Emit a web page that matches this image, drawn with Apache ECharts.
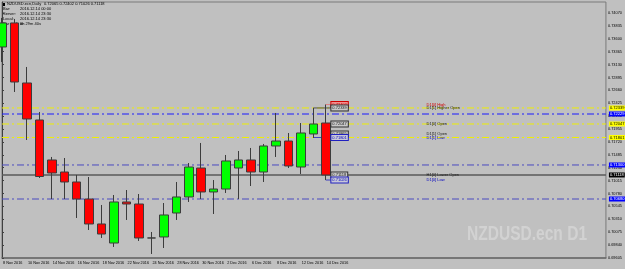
<!DOCTYPE html>
<html>
<head>
<meta charset="utf-8">
<script src="https://cdn.jsdelivr.net/npm/echarts@6.0.0/dist/echarts.min.js"></script>
<style>
  html, body { margin: 0; padding: 0; background: #c0c0c0; }
  #chart { width: 625px; height: 269px; }
</style>
</head>
<body>
<div id="chart"></div>
<script>
// trading days, one label per bar (only even bars get shown on the axis)
const dateLabels = [
    '8 Nov 2016', '9 Nov 2016', '10 Nov 2016', '11 Nov 2016', '14 Nov 2016', '15 Nov 2016',
    '16 Nov 2016', '17 Nov 2016', '18 Nov 2016', '21 Nov 2016', '22 Nov 2016', '23 Nov 2016',
    '24 Nov 2016', '25 Nov 2016', '28 Nov 2016', '29 Nov 2016', '30 Nov 2016', '1 Dec 2016',
    '2 Dec 2016', '5 Dec 2016', '6 Dec 2016', '7 Dec 2016', '8 Dec 2016', '9 Dec 2016',
    '12 Dec 2016', '13 Dec 2016', '14 Dec 2016'
];
const opens = [
    0.73450, 0.73888, 0.72794, 0.72120, 0.71391, 0.71172, 0.70990, 0.70680, 0.70225,
    0.69878, 0.70626, 0.70589, 0.69970, 0.69988, 0.70425, 0.70717, 0.71245, 0.70808,
    0.70862, 0.71245, 0.71391, 0.71172, 0.71646, 0.71737, 0.71263, 0.71865, 0.72065
];
const closes = [
    0.73888, 0.72812, 0.72138, 0.71090, 0.71154, 0.70990, 0.70680, 0.70225, 0.70042,
    0.70626, 0.70589, 0.69970, 0.69970, 0.70389, 0.70717, 0.71263, 0.70808, 0.70862,
    0.71373, 0.71391, 0.71172, 0.71646, 0.71737, 0.71282, 0.71883, 0.72047, 0.71118
];
const lows = [
    0.73177, 0.72630, 0.71755, 0.71063, 0.70680, 0.70680, 0.70334, 0.70115, 0.69970,
    0.69806, 0.70298, 0.69915, 0.69678, 0.69787, 0.70298, 0.70626, 0.70680, 0.70407,
    0.70790, 0.70680, 0.70917, 0.70990, 0.71446, 0.71245, 0.71136, 0.71792, 0.71026
];
const highs = [
    0.73979, 0.73961, 0.73086, 0.72266, 0.71446, 0.71427, 0.71118, 0.71081, 0.70571,
    0.70753, 0.70844, 0.70771, 0.70079, 0.70607, 0.70990, 0.71336, 0.71701, 0.71026,
    0.71482, 0.71555, 0.71610, 0.71683, 0.72248, 0.71883, 0.72065, 0.72339, 0.72402
];

// horizontal levels drawn by the indicator
const yellowLevels = [0.72339, 0.72047, 0.71801];
const blueLevels = [0.72229, 0.71300, 0.70680];
const bidPrice = 0.71118;

// level tags printed inside the chart
const tagNames = ['D1[0] High', 'D1[1] Higher Open', 'D1[0] Open', 'D1[1] Open', 'D1[1] Low', 'H1[0] Lower Open', 'D1[0] Low'];
const tagPrices = [0.72402, 0.72339, 0.72047, 0.71865, 0.71801, 0.71118, 0.71026];

const infoLines = [
    ['NZDUSD.ecn,Daily', '0.72065 0.72402 0.71026 0.71118'],
    ['Bar:', '2016.12.14 00:00'],
    ['Server:', '2016.12.14 23:30'],
    ['Local:', '2016.12.14 23:30'],
    ['Bar ends in:', '0h 29m 40s']
];

var chartDom = document.getElementById('chart');
var myChart = echarts.init(chartDom, null, { renderer: 'canvas' });

const tiny = 4;
const dashDot = [7, 3, 2, 3];
const xEnd = 48.5;
const boxX = 26.45;

const candleData = closes.map((c, i) => [i, opens[i], c, lows[i], highs[i]]);

function tagStyle(name) {
    if (name.indexOf('High') >= 0 && name.indexOf('Higher') < 0) return { text: '#d00000', fill: '#f09090', border: '#d00000' };
    if (name.indexOf('Low') >= 0 && name.indexOf('Lower') < 0) return { text: '#0000c0', fill: '#c8c8d8', border: '#2020c0' };
    return { text: '#202020', fill: '#c8c8c8', border: '#303030' };
}

// one flat line series per level, with the price box on the right axis
function levelSeries(price, color, type, width, boxFill, boxText) {
    return {
        type: 'line',
        silent: true,
        showSymbol: false,
        symbol: 'none',
        z: 1,
        lineStyle: { color: color, type: type, width: width },
        data: [[0, price], [xEnd, price]],
        endLabel: {
            show: true,
            distance: 3,
            fontSize: tiny,
            fontFamily: 'Arial',
            color: boxText,
            backgroundColor: boxFill,
            padding: [1, 1, 0, 1],
            formatter: () => price.toFixed(5)
        }
    };
}

// short connector from a bar to the value box
function connector(fromX, price, color) {
    return {
        type: 'line',
        silent: true,
        showSymbol: false,
        symbol: 'none',
        z: 1,
        lineStyle: { color: color, width: 1 },
        data: [[fromX, price], [boxX, price]]
    };
}

const series = [];
yellowLevels.forEach(p => series.push(levelSeries(p, '#eeee00', dashDot, 1, '#ffff00', '#000')));
blueLevels.forEach((p, i) => series.push(levelSeries(p, i === 0 ? '#1a1aff' : '#4a4ac0', dashDot, 1, '#0000ff', '#fff')));
series.push(levelSeries(bidPrice, '#5a5a5a', 'solid', 1.5, '#000', '#fff'));

series.push(connector(26, tagPrices[0], '#e08080'));
series.push(connector(25, tagPrices[1], '#505050'));
series.push(connector(26, tagPrices[2], '#505050'));
series.push(connector(25, tagPrices[4], '#4040c0'));
series.push(connector(26, tagPrices[6], '#4040c0'));

const boxes = tagNames.map((n, i) => {
    const s = tagStyle(n);
    return {
        coord: [boxX, tagPrices[i]],
        label: {
            formatter: tagPrices[i].toFixed(5),
            color: s.text,
            backgroundColor: s.fill,
            borderColor: s.border,
            borderWidth: 1,
            padding: [1, 1, 0, 1]
        }
    };
});
const tags = tagNames.map((n, i) => {
    const s = tagStyle(n);
    return {
        coord: [34.1, tagPrices[i]],
        label: { formatter: n, color: s.text }
    };
});

series.push({
    type: 'candlestick',
    barWidth: 9,
    z: 3,
    encode: { x: 0, y: [1, 2, 3, 4] },
    itemStyle: {
        color: '#00ff00',
        color0: '#ff0000',
        borderColor: '#3c3c3c',
        borderColor0: '#3c3c3c',
        borderColorDoji: '#3c3c3c',
        borderWidth: 1
    },
    data: candleData,
    markPoint: {
        silent: true,
        symbol: 'rect',
        symbolSize: 0,
        animation: false,
        label: {
            show: true,
            position: 'right',
            distance: 0,
            fontSize: tiny,
            fontFamily: 'Arial'
        },
        data: boxes.concat(tags)
    }
});

const graphics = [];
infoLines.forEach((l, i) => {
    graphics.push({
        type: 'text', left: i === 0 ? 7 : 3, top: 2 + i * 5, silent: true,
        style: { text: l[0], fontSize: tiny, fontFamily: 'Arial', fill: '#000' }
    });
    graphics.push({
        type: 'text', left: i === 0 ? 44 : 20, top: 2 + i * 5, silent: true,
        style: { text: l[1], fontSize: tiny, fontFamily: 'Arial', fill: '#000' }
    });
});
graphics.push({
    type: 'rect', left: 2, top: 3, silent: true,
    shape: { width: 3, height: 3 }, style: { fill: '#000' }
});
graphics.push({
    type: 'text', left: 467, top: 224, silent: true, scaleX: 0.74,
    style: {
        text: 'NZDUSD.ecn D1', fill: '#d2d2d2',
        font: 'bold 21px "Liberation Sans", Arial, sans-serif'
    }
});

var option = {
    animation: false,
    backgroundColor: '#c0c0c0',
    grid: {
        left: 1.7, right: 17, top: 2, bottom: 11,
        show: true, borderColor: '#7a7a7a', borderWidth: 1
    },
    xAxis: {
        type: 'value',
        min: 0,
        max: xEnd,
        interval: 2,
        splitLine: { show: false },
        axisLine: { lineStyle: { color: '#6a6a6a', width: 1.5 } },
        axisTick: { show: false },
        axisLabel: {
            align: 'left',
            margin: 3,
            fontSize: 3.8,
            fontFamily: 'Arial',
            color: '#000',
            padding: [0, 0, 0, 1],
            showMaxLabel: false,
            formatter: v => (Number.isInteger(v) && v < dateLabels.length) ? dateLabels[v] : ''
        }
    },
    yAxis: {
        type: 'value',
        position: 'right',
        min: 0.69605,
        max: 0.7427,
        interval: 0.00235,
        splitLine: { show: false },
        axisLine: { show: true, lineStyle: { color: '#404040', width: 1 } },
        axisTick: { show: true, length: 2, lineStyle: { color: '#404040' } },
        axisLabel: {
            margin: 2,
            fontSize: 3.9,
            fontFamily: 'Arial',
            color: '#000',
            showMaxLabel: false,
            formatter: v => v.toFixed(5)
        }
    },
    graphic: graphics,
    series: series
};

option && myChart.setOption(option);
</script>
</body>
</html>
